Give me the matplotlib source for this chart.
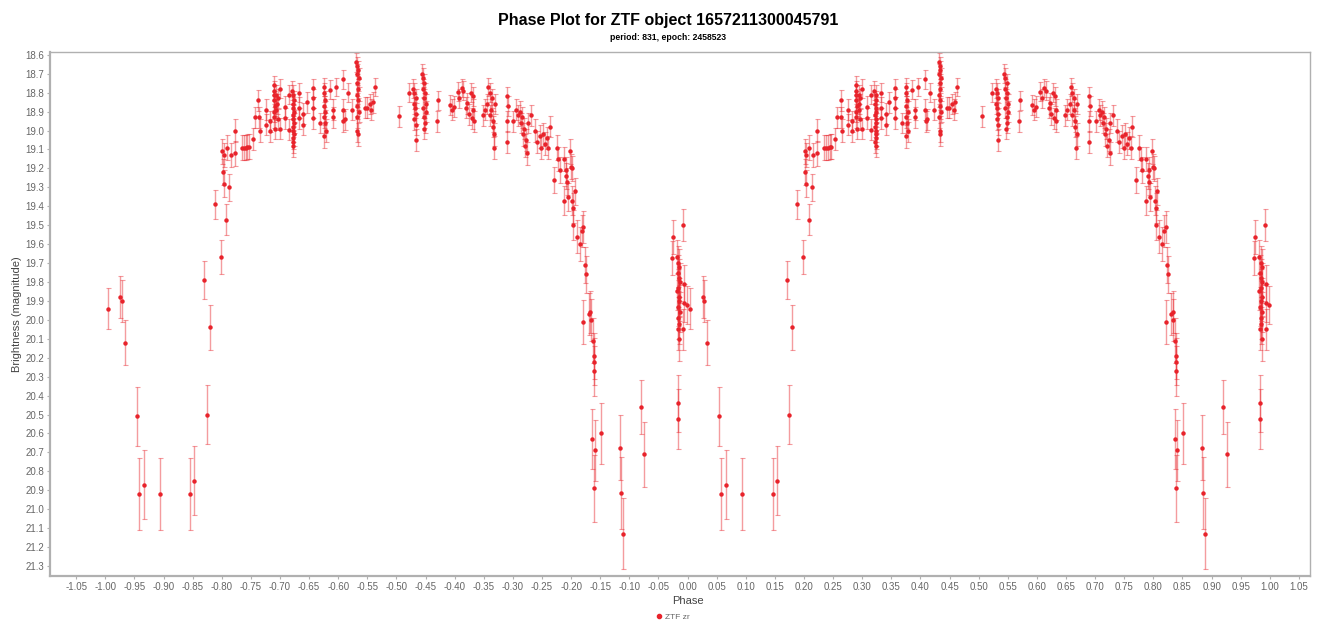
import numpy as np
import matplotlib.pyplot as plt
from matplotlib.lines import Line2D

plt.rcParams['font.family'] = ['Liberation Sans', 'DejaVu Sans']

# one cycle of the folded light curve (phase -1..0); it is drawn again at phase + 1
wing_phase = [-0.995, -0.974, -0.972, -0.966, -0.946, -0.942, -0.934, -0.906,
              -0.854, -0.847, -0.825, -0.830, -0.820]
wing_mag = [19.94, 19.88, 19.90, 20.12, 20.51, 20.92, 20.87, 20.92,
            20.92, 20.85, 20.50, 19.79, 20.04]
wing_err = [0.11, 0.11, 0.11, 0.12, 0.157, 0.188, 0.184, 0.19,
            0.19, 0.183, 0.158, 0.10, 0.12]

rise_phase = [-0.812, -0.802, -0.799, -0.798, -0.796, -0.797, -0.792, -0.791,
              -0.787, -0.784, -0.778, -0.777, -0.765, -0.762, -0.759, -0.756,
              -0.753, -0.747, -0.743, -0.737, -0.736, -0.735]
rise_mag = [19.39, 19.67, 19.11, 19.22, 19.28, 19.13, 19.47, 19.09,
            19.30, 19.13, 19.00, 19.12, 19.09, 19.09, 19.09, 19.085,
            19.085, 19.045, 18.93, 18.84, 18.93, 19.00]
rise_err = [0.075, 0.09, 0.065, 0.068, 0.07, 0.065, 0.08, 0.065,
            0.07, 0.065, 0.06, 0.065, 0.065, 0.065, 0.065, 0.065,
            0.065, 0.06, 0.055, 0.055, 0.055, 0.06]

top1_phase = [-0.724, -0.724, -0.717, -0.717, -0.711, -0.711, -0.710, -0.711,
              -0.709, -0.710, -0.711, -0.709, -0.706, -0.706, -0.705, -0.703,
              -0.703, -0.700, -0.700, -0.691, -0.691, -0.685, -0.685, -0.679,
              -0.677, -0.676, -0.678, -0.677, -0.676, -0.678, -0.677, -0.676,
              -0.678, -0.677, -0.676, -0.677, -0.678, -0.677, -0.667, -0.667,
              -0.667, -0.660, -0.660, -0.654, -0.643, -0.643, -0.643, -0.643,
              -0.632, -0.625, -0.624, -0.623, -0.625, -0.622, -0.624, -0.623,
              -0.621, -0.624, -0.614, -0.609, -0.609, -0.604, -0.592, -0.592,
              -0.591, -0.588, -0.584, -0.577, -0.569, -0.567, -0.566, -0.568,
              -0.565, -0.567, -0.566, -0.568, -0.566, -0.567, -0.565, -0.568,
              -0.567, -0.566, -0.554, -0.551, -0.546, -0.543, -0.540, -0.537]
top1_mag = [18.89, 18.97, 18.95, 19.00, 18.76, 18.79, 18.81, 18.84,
            18.87, 18.90, 18.93, 18.99, 18.81, 18.89, 18.86, 18.83,
            18.94, 18.78, 18.99, 18.875, 18.935, 18.81, 18.995, 18.79,
            18.81, 18.84, 18.86, 18.88, 18.90, 18.92, 18.94, 18.96,
            18.98, 19.00, 19.02, 19.04, 19.06, 19.08, 18.80, 18.88,
            18.935, 18.91, 18.97, 18.85, 18.775, 18.83, 18.88, 18.935,
            18.96, 18.77, 18.80, 18.84, 18.87, 18.90, 18.93, 18.96,
            19.00, 19.03, 18.785, 18.89, 18.93, 18.77, 18.73, 18.89,
            18.95, 18.94, 18.80, 18.89, 18.64, 18.66, 18.68, 18.70,
            18.72, 18.75, 18.78, 18.81, 18.84, 18.87, 18.90, 18.93,
            19.00, 19.02, 18.88, 18.88, 18.86, 18.89, 18.85, 18.77]
top1_err = [0.055, 0.055, 0.055, 0.06, 0.05, 0.05, 0.05, 0.05,
            0.055, 0.055, 0.055, 0.055, 0.05, 0.055, 0.055, 0.05,
            0.055, 0.05, 0.055, 0.055, 0.055, 0.05, 0.055, 0.05,
            0.05, 0.05, 0.055, 0.055, 0.055, 0.055, 0.055, 0.055,
            0.055, 0.06, 0.06, 0.06, 0.06, 0.06, 0.05, 0.055,
            0.055, 0.055, 0.055, 0.055, 0.05, 0.05, 0.055, 0.055,
            0.055, 0.05, 0.05, 0.05, 0.055, 0.055, 0.055, 0.055,
            0.06, 0.06, 0.05, 0.055, 0.055, 0.05, 0.05, 0.055,
            0.055, 0.055, 0.05, 0.055, 0.05, 0.05, 0.05, 0.05,
            0.05, 0.05, 0.05, 0.05, 0.05, 0.055, 0.055, 0.055,
            0.06, 0.06, 0.055, 0.055, 0.055, 0.055, 0.055, 0.05]

top2_phase = [-0.495, -0.478, -0.471, -0.469, -0.467, -0.470, -0.468, -0.466,
              -0.469, -0.467, -0.467, -0.456, -0.454, -0.452, -0.455, -0.451,
              -0.453, -0.450, -0.454, -0.449, -0.452, -0.451, -0.453, -0.431,
              -0.429, -0.408, -0.405, -0.402, -0.395, -0.392, -0.388, -0.385,
              -0.380, -0.378, -0.376, -0.372, -0.371, -0.369, -0.368, -0.367,
              -0.352, -0.348, -0.344, -0.342, -0.340, -0.339, -0.337, -0.336,
              -0.335, -0.334, -0.333, -0.332, -0.331, -0.310, -0.310, -0.310,
              -0.309, -0.299, -0.294, -0.291, -0.288, -0.286, -0.284, -0.283,
              -0.281, -0.279, -0.277, -0.275, -0.274, -0.269, -0.262, -0.259,
              -0.254, -0.251, -0.248, -0.245, -0.242, -0.239, -0.236]
top2_mag = [18.925, 18.80, 18.78, 18.80, 18.83, 18.86, 18.88, 18.91,
            18.94, 18.97, 19.05, 18.70, 18.72, 18.75, 18.78, 18.80,
            18.83, 18.86, 18.88, 18.90, 18.93, 18.96, 18.99, 18.95,
            18.84, 18.865, 18.89, 18.875, 18.795, 18.83, 18.775, 18.79,
            18.88, 18.855, 18.915, 18.80, 18.935, 18.82, 18.89, 18.95,
            18.92, 18.89, 18.86, 18.77, 18.92, 18.80, 18.89, 18.83,
            18.95, 18.98, 19.09, 19.02, 18.86, 18.82, 18.95, 19.06,
            18.87, 18.95, 18.89, 18.92, 18.90, 18.96, 18.93, 19.02,
            18.99, 19.08, 19.05, 19.12, 18.96, 18.92, 19.00, 19.06,
            19.03, 19.09, 19.02, 19.07, 19.04, 19.09, 18.98]
top2_err = [0.055, 0.05, 0.05, 0.05, 0.05, 0.055, 0.055, 0.055,
            0.055, 0.055, 0.06, 0.05, 0.05, 0.05, 0.05, 0.05,
            0.05, 0.055, 0.055, 0.055, 0.055, 0.055, 0.055, 0.055,
            0.05, 0.055, 0.055, 0.055, 0.05, 0.05, 0.05, 0.05,
            0.055, 0.055, 0.055, 0.05, 0.055, 0.05, 0.055, 0.055,
            0.055, 0.055, 0.055, 0.05, 0.055, 0.05, 0.055, 0.05,
            0.055, 0.055, 0.06, 0.06, 0.055, 0.05, 0.055, 0.06,
            0.055, 0.055, 0.055, 0.055, 0.055, 0.055, 0.055, 0.06,
            0.055, 0.06, 0.06, 0.06, 0.055, 0.055, 0.06, 0.06,
            0.06, 0.06, 0.06, 0.06, 0.06, 0.06, 0.055]

fall_phase = [-0.229, -0.225, -0.222, -0.219, -0.213, -0.212, -0.209, -0.208,
              -0.207, -0.205, -0.202, -0.200, -0.199, -0.198, -0.196, -0.196,
              -0.194, -0.190, -0.185, -0.182, -0.179, -0.177, -0.175, -0.179,
              -0.170, -0.167, -0.166, -0.162, -0.161, -0.161, -0.161]
fall_mag = [19.26, 19.09, 19.15, 19.21, 19.15, 19.37, 19.24, 19.21,
            19.27, 19.35, 19.11, 19.19, 19.20, 19.37, 19.41, 19.50,
            19.32, 19.56, 19.60, 19.53, 19.51, 19.71, 19.76, 20.01,
            19.97, 19.96, 20.00, 20.11, 20.19, 20.22, 20.27]
fall_err = [0.07, 0.065, 0.065, 0.068, 0.065, 0.075, 0.07, 0.068,
            0.07, 0.075, 0.065, 0.068, 0.068, 0.075, 0.078, 0.08,
            0.072, 0.085, 0.088, 0.085, 0.085, 0.095, 0.10, 0.115,
            0.11, 0.11, 0.11, 0.12, 0.12, 0.125, 0.13]

low_phase = [-0.1635, -0.159, -0.1605, -0.149, -0.116, -0.115, -0.111, -0.080,
             -0.074, -0.017, -0.017]
low_mag = [20.63, 20.69, 20.89, 20.60, 20.675, 20.915, 21.13, 20.46,
           20.71, 20.44, 20.525]
low_err = [0.157, 0.16, 0.177, 0.163, 0.17, 0.188, 0.187, 0.141,
           0.173, 0.15, 0.158]

egress_phase = [-0.027, -0.025, -0.008, -0.018, -0.016, -0.014, -0.017, -0.015,
                -0.013, -0.016, -0.018, -0.014, -0.015, -0.017, -0.013, -0.016,
                -0.015, -0.017, -0.014, -0.006, -0.006, -0.007, -0.001]
egress_mag = [19.675, 19.56, 19.50, 19.67, 19.70, 19.72, 19.75, 19.78,
              19.80, 19.83, 19.85, 19.88, 19.90, 19.93, 19.96, 19.99,
              20.02, 20.05, 20.10, 19.81, 19.91, 20.05, 19.92]
egress_err = [0.09, 0.09, 0.085, 0.09, 0.09, 0.095, 0.095, 0.1,
              0.1, 0.1, 0.1, 0.1, 0.105, 0.105, 0.105, 0.11,
              0.11, 0.11, 0.115, 0.1, 0.1, 0.11, 0.1]

phase = np.array(wing_phase + rise_phase + top1_phase + top2_phase
                 + fall_phase + low_phase + egress_phase)
mag = np.array(wing_mag + rise_mag + top1_mag + top2_mag
               + fall_mag + low_mag + egress_mag)
err = np.array(wing_err + rise_err + top1_err + top2_err
               + fall_err + low_err + egress_err)

red = '#e8232b'
grey = '#b0b0b0'

fig = plt.figure(figsize=(13.18, 6.22), dpi=100)
ax = fig.add_axes([50 / 1318, 1 - 576 / 622, 1260 / 1318, 524 / 622])

for shift in (0.0, 1.0):
    ax.errorbar(phase + shift, mag, yerr=err, fmt='none',
                ecolor=(0.91, 0.14, 0.17, 0.45), elinewidth=1.0,
                capsize=1.8, capthick=0.8)
    ax.plot(phase + shift, mag, 'o', ms=3.2, color=red, mec=red, mew=0)

ax.set_xlim(-1.095, 1.069)
ax.set_ylim(21.353, 18.585)
xt = np.round(np.arange(-1.05, 1.051, 0.05), 2)
yt = np.round(np.arange(18.6, 21.301, 0.1), 1)
ax.set_xticks(xt)
ax.set_xticklabels(['%.2f' % t for t in xt])
ax.set_yticks(yt)
ax.set_yticklabels(['%.1f' % t for t in yt])

for s in ax.spines.values():
    s.set_color(grey)
    s.set_linewidth(1.0)
ax.spines['left'].set_linewidth(1.6)
ax.spines['bottom'].set_linewidth(1.6)
ax.tick_params(axis='both', length=2, width=0.8, color=grey, labelsize=7,
               labelcolor='#666666', pad=2)

ax.set_xlabel('Phase', fontsize=8, color='#444444')
ax.set_ylabel('Brightness (magnitude)', fontsize=8, color='#444444')
ax.xaxis.set_label_coords(0.506, -0.038)
ax.yaxis.set_label_coords(-0.022, 0.5)

fig.text(0.507, 0.967, 'Phase Plot for ZTF object 1657211300045791',
         ha='center', va='center', fontsize=11.5, fontweight='bold')
fig.text(0.507, 0.939, 'period: 831, epoch: 2458523',
         ha='center', va='center', fontsize=6.2, fontweight='bold')

handle = Line2D([], [], marker='o', ls='', color=red, ms=3)
fig.legend([handle], ['ZTF zr'], loc='center', bbox_to_anchor=(0.51, 0.008),
           frameon=False, fontsize=6, handletextpad=0.2, handlelength=1,
           labelcolor='#666666')

fig.savefig('out.png', dpi=100)
